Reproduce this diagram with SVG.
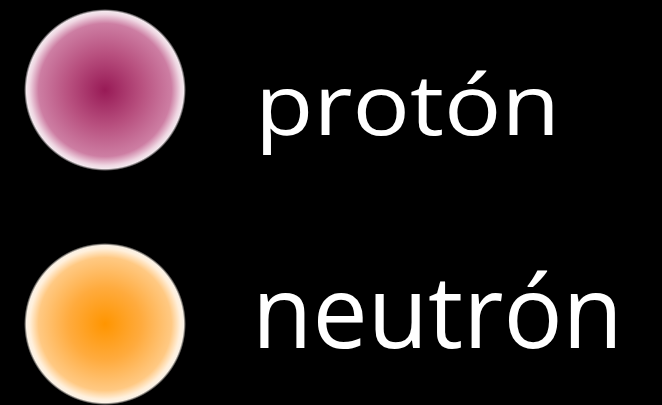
<svg xmlns="http://www.w3.org/2000/svg" width="662" height="405" viewBox="0 0 662 405">
<defs>
<radialGradient id="gp" cx="50%" cy="50%" r="50%">
<stop offset="0" stop-color="#981a56"/>
<stop offset="0.45" stop-color="#b8507f"/>
<stop offset="0.82" stop-color="#cd7ea3"/>
<stop offset="0.93" stop-color="#efd6e2"/>
<stop offset="0.97" stop-color="#f4e8ee"/>
<stop offset="1" stop-color="#000000"/>
</radialGradient>
<radialGradient id="gn" cx="50%" cy="50%" r="50%">
<stop offset="0" stop-color="#ff9500"/>
<stop offset="0.45" stop-color="#ffab3e"/>
<stop offset="0.82" stop-color="#ffc983"/>
<stop offset="0.93" stop-color="#fff0dc"/>
<stop offset="0.97" stop-color="#fbf2e6"/>
<stop offset="1" stop-color="#000000"/>
</radialGradient>
<style>
.lbl{font-family:"Open Sans","DejaVu Sans",sans-serif;font-weight:400;fill:#ffffff;}
</style>
</defs>
<rect width="662" height="405" fill="#000000"/>
<g id="proton">
<circle cx="105" cy="90" r="81" fill="url(#gp)"/>
<text class="lbl" x="255" y="135" font-size="84" textLength="305" lengthAdjust="spacingAndGlyphs">protón</text>
</g>
<g id="neutron">
<circle cx="105" cy="324" r="81" fill="url(#gn)"/>
<text class="lbl" x="252" y="348" font-size="100" textLength="371" lengthAdjust="spacingAndGlyphs">neutrón</text>
</g>
<g id="connectors"/>
</svg>
